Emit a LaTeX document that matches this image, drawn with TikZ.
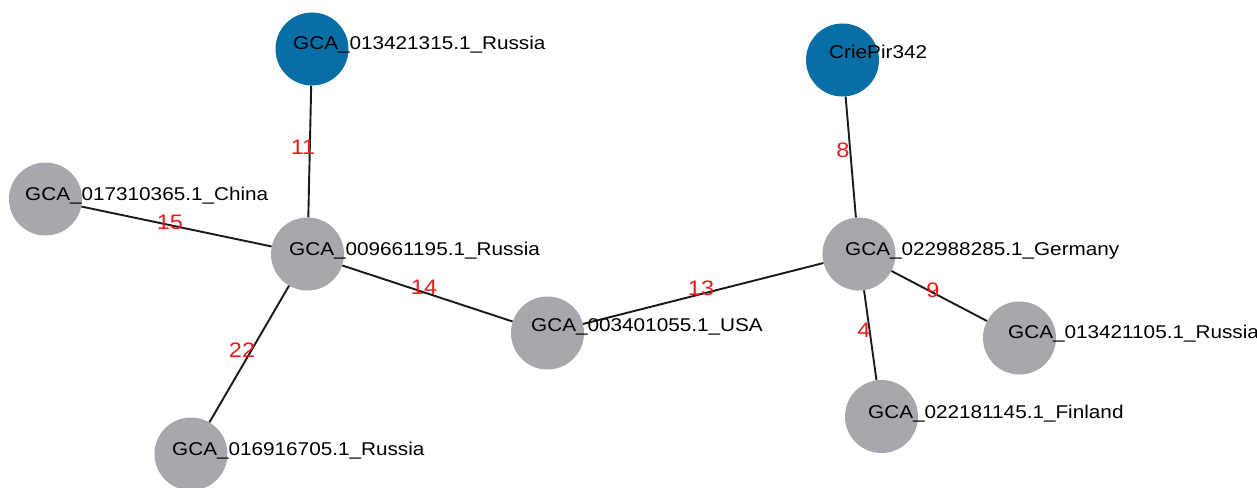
\documentclass[tikz,border=0pt]{standalone}
\usepackage{fontspec}
\setmainfont[FakeStretch=1.12]{Liberation Sans}
\definecolor{nodeblue}{RGB}{8,110,166}
\definecolor{nodegray}{RGB}{166,168,174}
\definecolor{wred}{RGB}{235,25,25}
\tikzset{
  vtx/.style={circle, minimum size=73pt, inner sep=0pt, draw=none},
  bluevtx/.style={vtx, fill=nodeblue},
  grayvtx/.style={vtx, fill=nodegray},
  vname/.style={anchor=base west, inner sep=0pt, font=\fontsize{18.5}{20}\selectfont, text=black},
  edge/.style={draw=black!90, line width=1.9pt},
  wlabel/.style={anchor=center, inner sep=0pt, font=\fontsize{21}{22}\selectfont, text=wred}
}
\begin{document}
\begin{tikzpicture}[x=1pt,y=-1pt]
\useasboundingbox (0,0) rectangle (1257,487);
% circles
\node[bluevtx] (A) at (312,49) {};
\node[bluevtx] (B) at (842.5,60) {};
\node[grayvtx] (C) at (45.5,199) {};
\node[grayvtx] (D) at (307.5,254) {};
\node[grayvtx] (E) at (547.5,333) {};
\node[grayvtx] (F) at (859,254) {};
\node[grayvtx] (G) at (1019.5,338) {};
\node[grayvtx] (H) at (881.5,416.5) {};
\node[grayvtx] (I) at (191,454) {};
% edges
\draw[edge] (A) -- (D);
\draw[edge] (C) -- (D);
\draw[edge] (D) -- (E);
\draw[edge] (D) -- (I);
\draw[edge] (E) -- (F);
\draw[edge] (B) -- (F);
\draw[edge] (F) -- (G);
\draw[edge] (F) -- (H);
% names
\node[vname] (tA) at (293,50) {GCA\_013421315.1\_Russia};
\node[vname] (tB) at (829,59) {CriePir342};
\node[vname] (tC) at (25,200) {GCA\_017310365.1\_China};
\node[vname] (tD) at (289,255) {GCA\_009661195.1\_Russia};
\node[vname] (tE) at (531,331) {GCA\_003401055.1\_USA};
\node[vname] (tF) at (845,255) {GCA\_022988285.1\_Germany};
\node[vname] (tG) at (1008,338) {GCA\_013421105.1\_Russia};
\node[vname] (tH) at (868,418) {GCA\_022181145.1\_Finland};
\node[vname] (tI) at (172,455) {GCA\_016916705.1\_Russia};
% weights
\node[wlabel] (w11) at (303,147) {11};
\node[wlabel] (w15) at (170,222) {15};
\node[wlabel] (w14) at (424,287) {14};
\node[wlabel] (w22) at (242,350) {22};
\node[wlabel] (w13) at (701,288) {13};
\node[wlabel] (w8) at (843,150) {8};
\node[wlabel] (w9) at (933,290) {9};
\node[wlabel] (w4) at (864,330) {4};
\end{tikzpicture}
\end{document}
